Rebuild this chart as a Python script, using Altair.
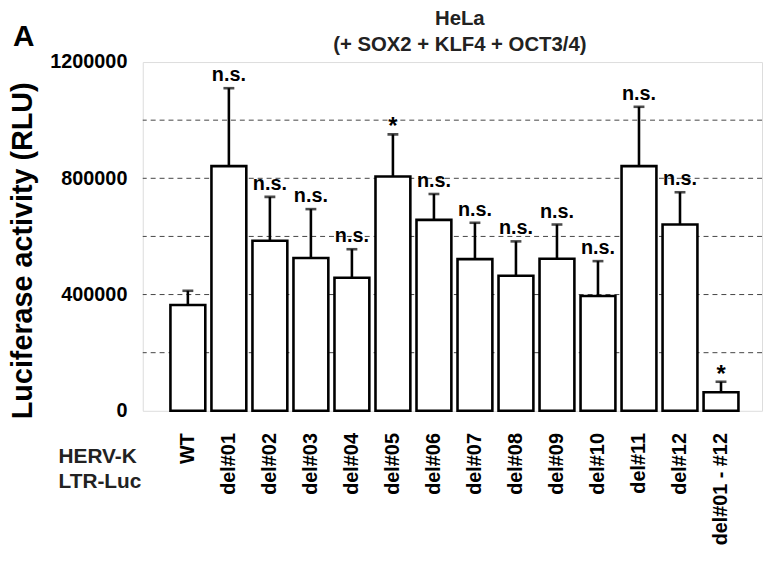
import altair as alt
import pandas as pd

categories = ["WT", "del#01", "del#02", "del#03", "del#04", "del#05", "del#06",
              "del#07", "del#08", "del#09", "del#10", "del#11", "del#12", "del#01 - #12"]
means = [364000, 842000, 585000, 526000, 458000, 806000, 657000,
         522000, 465000, 523000, 395000, 842000, 641000, 64000]
errors = [49000, 268000, 151000, 168000, 98000, 145000, 89000,
          125000, 118000, 118000, 120000, 204000, 111000, 36000]
significance = ["", "n.s.", "n.s.", "n.s.", "n.s.", "*", "n.s.",
                "n.s.", "n.s.", "n.s.", "n.s.", "n.s.", "n.s.", "*"]
grid_values = [200000, 400000, 600000, 800000, 1000000]
y_ticks = [0, 400000, 800000, 1200000]
title_lines = ["HeLa", "(+ SOX2 + KLF4 + OCT3/4)"]
row_label_lines = ["HERV-K", "LTR-Luc"]

df = pd.DataFrame({
    "cat": categories,
    "mean": means,
    "upper": [m + e for m, e in zip(means, errors)],
    "sig": significance,
})
grid_df = pd.DataFrame({"g": grid_values})

FONT = "Liberation Sans"

xscale = alt.Scale(domain=categories, paddingInner=0.15, paddingOuter=0.625, align=0.54)
yscale = alt.Scale(domain=[0, 1200000], nice=False)

x_enc = alt.X("cat:N", scale=xscale, sort=categories,
              axis=alt.Axis(title=None, labelAngle=-90, labelFontSize=20, labelFont=FONT,
                            labelFontWeight="bold", labelColor="black", labelPadding=22,
                            ticks=False, domain=False, labelLimit=300))

grid = alt.Chart(grid_df).mark_rule(color="#444444", strokeWidth=1, strokeDash=[5, 4]).encode(
    y=alt.Y("g:Q", scale=yscale,
            axis=alt.Axis(title="Luciferase activity (RLU)", values=y_ticks, format="d",
                          labelFontSize=20, labelFont=FONT, labelFontWeight="bold",
                          labelColor="black", labelPadding=16, ticks=False, domain=False,
                          grid=False, titleFont=FONT, titleFontSize=29, titleFontWeight="bold",
                          titleColor="black", titleX=-106, titleY=190, titleAngle=-90,
                          titleBaseline="bottom", titleAlign="center"))
)

base = alt.Chart(df)

bars = base.mark_bar(fill="white", stroke="black", strokeWidth=2.6).encode(
    x=x_enc,
    y=alt.Y("mean:Q", scale=yscale),
)

err = base.mark_rule(color="black", strokeWidth=2.6).encode(
    x=alt.X("cat:N", scale=xscale, sort=categories),
    y=alt.Y("mean:Q", scale=yscale),
    y2="upper:Q",
)

caps = base.mark_tick(color="black", thickness=2.6, size=11).encode(
    x=alt.X("cat:N", scale=xscale, sort=categories),
    y=alt.Y("upper:Q", scale=yscale),
)

ns_text = base.transform_filter(alt.datum.sig == "n.s.").mark_text(
    font=FONT, fontSize=20, fontWeight="bold", color="black", baseline="bottom", dy=-3
).encode(
    x=alt.X("cat:N", scale=xscale, sort=categories),
    y=alt.Y("upper:Q", scale=yscale),
    text="sig:N",
)

star_text = base.transform_filter(alt.datum.sig == "*").mark_text(
    font=FONT, fontSize=24, fontWeight="bold", color="black", baseline="bottom", dy=5
).encode(
    x=alt.X("cat:N", scale=xscale, sort=categories),
    y=alt.Y("upper:Q", scale=yscale),
    text="sig:N",
)

one_row = pd.DataFrame({"t": ["x"]})

panel = alt.Chart(one_row).mark_text(
    font=FONT, fontSize=30, fontWeight="bold", color="black", align="left", baseline="alphabetic"
).encode(x=alt.value(-131), y=alt.value(-16), text=alt.value("A"))

title_mark = alt.Chart(one_row).mark_text(
    font=FONT, fontSize=20.5, fontWeight="bold", color="#222222", align="center",
    baseline="alphabetic", lineHeight=26
).encode(x=alt.value(320), y=alt.value(-37), text=alt.value(title_lines))

rowlabel = alt.Chart(one_row).mark_text(
    font=FONT, fontSize=21, fontWeight="bold", color="#222222", align="left",
    baseline="alphabetic", lineHeight=25
).encode(x=alt.value(-85), y=alt.value(405), text=alt.value(row_label_lines))

chart = alt.layer(grid, bars, err, caps, ns_text, star_text, panel, title_mark, rowlabel).resolve_scale(
    y="shared"
).properties(
    width=625,
    height=352,
    autosize=alt.AutoSizeParams(type="none"),
    padding={"left": 136, "top": 52, "right": 2, "bottom": 145},
).configure_view(stroke="black", strokeWidth=2.6).configure(background="white")

chart.save("out.html", embed_options={"renderer": "svg", "actions": False})
